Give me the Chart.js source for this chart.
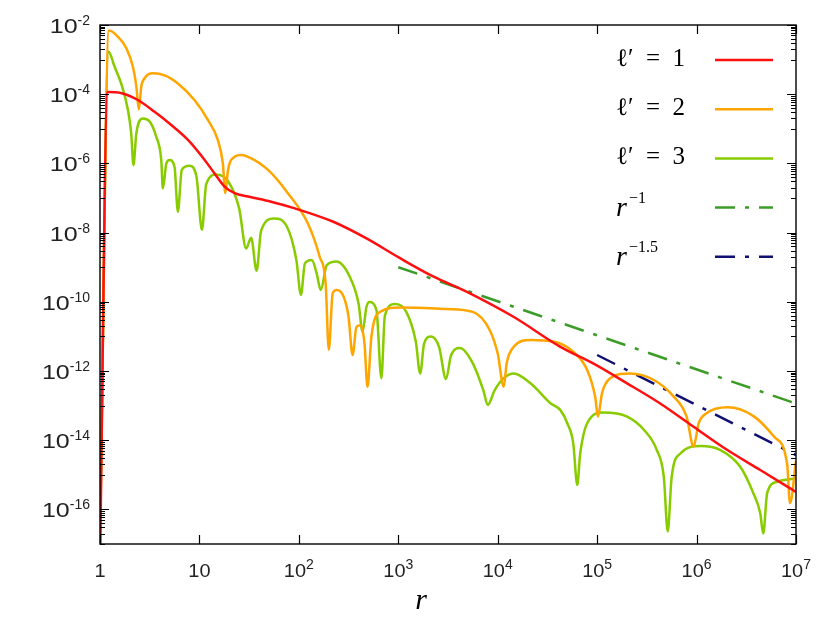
<!DOCTYPE html>
<html>
<head>
<meta charset="UTF-8">
<title>Radial profiles</title>
<script src="https://cdn.jsdelivr.net/npm/chart.js"></script>
<style>
  body { margin: 0; background: #fff; }
  canvas { display: block; }
</style>
</head>
<body>
<canvas id="chart" width="830" height="623"></canvas>
<script>
// l' = 1
const r1 = [1.0, 1.19, 1.65, 2.40, 3.54, 5.21, 7.67, 11.3, 14.2, 17.9, 22.6, 30.9, 52.5, 91.2, 219, 479,
  1040, 2240, 4900, 14400, 42700, 91200, 2.0e5, 4.27e5, 9.33e5, 2.04e6, 4.37e6, 1e7];
const f1 = [3e-18, 1.15e-4, 1.07e-4, 6.8e-5, 3.1e-5, 1.29e-5, 4.8e-6, 1.26e-6, 5.1e-7, 2.14e-7, 1.38e-7, 1.10e-7, 7.8e-8, 5.0e-8, 2.09e-8, 6.8e-9,
  1.82e-9, 5.4e-10, 1.95e-10, 3.7e-11, 5.0e-12, 1.66e-12, 4.4e-13, 1.17e-13, 2.45e-14, 5.2e-15, 1.38e-15, 3.2e-16];

// l' = 2
const r2 = [1.0, 1.23, 1.51, 1.84, 2.14, 2.32, 2.46, 2.60, 2.81, 3.40, 4.47, 6.07, 8.91, 12.2, 15.3, 17.2, 18.2, 19.4,
  22.6, 26.3, 30.9, 49.0, 77.6, 123, 162, 186, 200, 219, 240, 282, 316, 347, 380, 417, 457, 490, 537, 653,
  1050, 3090, 5620, 8320, 10000, 11500, 12300, 14500, 21400, 36300, 57500, 79400, 95500, 1.02e5, 1.12e5, 1.35e5,
  2.14e5, 3.72e5, 5.89e5, 7.94e5, 9.33e5, 1.05e6, 1.26e6, 2.04e6, 3.80e6, 6.03e6, 8.13e6, 8.71e6, 1e7];
const f2 = [1e-17, 6.9e-3, 4.6e-3, 2.14e-3, 6.3e-4, 1.66e-4, 3.6e-5, 1.66e-4, 2.9e-4, 4.0e-4, 3.5e-4, 2.04e-4, 6.8e-5, 1.78e-5, 4.8e-6, 1.0e-6, 1.38e-7, 6.5e-7,
  1.55e-6, 1.74e-6, 1.55e-6, 6.5e-7, 1.38e-7, 1.86e-8, 2.0e-9, 3.4e-10, 4.1e-12, 1.78e-10, 2.19e-10, 1.41e-10, 3.7e-11, 2.9e-12, 1.9e-11, 2.1e-11, 6.3e-12, 3.5e-13, 1.0e-11, 5.1e-11,
  6.9e-11, 6.2e-11, 5.1e-11, 1.51e-11, 3.2e-12, 3.5e-13, 1.66e-12, 5.0e-12, 7.9e-12, 7.1e-12, 3.6e-12, 1.07e-12, 1.82e-13, 4.8e-14, 2.3e-13, 6.2e-13,
  8.5e-13, 5.5e-13, 1.82e-13, 4.8e-14, 6.5e-15, 3.1e-14, 6.0e-14, 8.9e-14, 4.8e-14, 1.26e-14, 2.14e-15, 1.51e-16, 2.5e-15];

// l' = 3
const r3 = [1.0, 1.22, 1.40, 1.65, 1.91, 2.06, 2.17, 2.32, 2.69, 3.16, 3.68, 4.13, 4.29, 4.65, 5.01, 5.62, 6.07, 6.65,
  7.94, 9.33, 10.6, 11.7, 14.8, 19.5, 25.1, 29.5, 33.1, 37.6, 41.7, 56.2, 75.9, 94.4, 105, 115, 135, 151, 166, 191,
  240, 324, 398, 437, 479, 513, 603, 676, 733, 923, 1200, 1500, 1660, 1820, 2140, 2570, 3020, 3390, 4170, 5620,
  7160, 7940, 9330, 11500, 14500, 21400, 33900, 42700, 50100, 57500, 63100, 67600, 79400, 1.15e5, 2.0e5, 2.95e5,
  3.98e5, 4.68e5, 5.13e5, 5.62e5, 6.92e5, 1.10e6, 1.74e6, 2.75e6, 3.72e6, 4.37e6, 4.68e6, 5.13e6, 6.46e6, 1e7];
const f3 = [2e-17, 1.7e-3, 6.3e-4, 1.86e-4, 3.5e-5, 7.4e-6, 8.9e-7, 7.4e-6, 2.0e-5, 1.62e-5, 5.9e-6, 1.26e-6, 1.9e-7, 1.0e-6, 1.26e-6, 7.9e-7, 4.0e-8, 6.5e-7,
  8.5e-7, 4.2e-7, 1.2e-8, 2.5e-7, 4.8e-7, 3.0e-7, 5.0e-8, 3.5e-9, 7.1e-9, 7.9e-10, 1.12e-8, 2.57e-8, 1.48e-8, 1.62e-9, 1.58e-10, 1.29e-9, 1.62e-9, 6.6e-10, 2.19e-10, 1.15e-9,
  1.45e-9, 5.4e-10, 9.1e-11, 1.38e-11, 7.2e-11, 9.8e-11, 5.8e-11, 6.2e-13, 4.0e-11, 8.7e-11, 5.2e-11, 7.1e-12, 8.5e-13, 6.3e-12, 1.0e-11, 5.0e-12, 5.9e-13, 2.8e-12, 4.6e-12, 1.66e-12,
  2.8e-13, 1.05e-13, 2.8e-13, 6.2e-13, 8.5e-13, 4.4e-13, 1.17e-13, 7.4e-14, 3.1e-14, 8.1e-15, 5.1e-16, 4.2e-15, 3.1e-14, 6.3e-14, 4.8e-14, 2.0e-14,
  5.2e-15, 8.9e-16, 2.3e-17, 8.9e-16, 4.2e-15, 6.8e-15, 5.2e-15, 1.7e-15, 2.95e-16, 7.8e-17, 2.0e-17, 2.95e-16, 6.3e-16, 7.9e-16];

// reference slopes
const rSlope1 = [1e3, 1e7];
const fSlope1 = [1.0e-9, 1.15e-13];
const rSlope15 = [1e5, 1e7];
const fSlope15 = [2.9e-12, 3.7e-15];

// ticks
const xTicks = [1, 10, 1e2, 1e3, 1e4, 1e5, 1e6, 1e7];
const xTickBase = ['1', '10', '10', '10', '10', '10', '10', '10'];
const xTickExp = ['', '', '2', '3', '4', '5', '6', '7'];
const yTickExp = [-2, -4, -6, -8, -10, -12, -14, -16];

// legend
const legendText = ['ℓ′\u2002=\u20021', 'ℓ′\u2002=\u20022', 'ℓ′\u2002=\u20023', 'r', 'r'];
const legendExp = ['', '', '', '−1', '−1.5'];

const colors = ['#ff1010', '#ffa500', '#88cc00', '#3c9c28', '#101070'];
const dashes = [[], [], [], [20, 10, 4, 10], [20, 10, 4, 10]];

function pts(xs, ys) { return xs.map((x, i) => ({ x: x, y: ys[i] })); }

const series = [pts(r1, f1), pts(r2, f2), pts(r3, f3), pts(rSlope1, fSlope1), pts(rSlope15, fSlope15)];

const datasets = series.map((d, i) => ({
  label: legendText[i] + legendExp[i],
  data: d,
  borderColor: colors[i],
  borderWidth: 2.5,
  borderDash: dashes[i],
  pointRadius: 0,
  fill: false,
  cubicInterpolationMode: i < 3 ? 'monotone' : 'default',
  tension: 0
}));

function drawPow(ctx, base, exp, x, y, align, bigFont, smallFont, stretch, raise) {
  ctx.font = bigFont;
  const wb = ctx.measureText(base).width * stretch;
  ctx.font = smallFont;
  const we = exp ? ctx.measureText(exp).width : 0;
  const total = wb + we;
  let x0 = align === 'center' ? x - total / 2 : (align === 'right' ? x - total : x);
  ctx.textAlign = 'left';
  ctx.textBaseline = 'alphabetic';
  ctx.save();
  ctx.translate(x0, y);
  ctx.scale(stretch, 1);
  ctx.font = bigFont;
  ctx.fillText(base, 0, 0);
  ctx.restore();
  if (exp) {
    ctx.font = smallFont;
    ctx.fillText(exp, x0 + wb, y - raise);
  }
}

const framePlugin = {
  id: 'frame',
  afterDraw(chart) {
    const { ctx, chartArea: a, scales: { x, y } } = chart;
    ctx.save();
    ctx.strokeStyle = '#000';
    ctx.lineWidth = 1.4;
    ctx.setLineDash([]);
    ctx.strokeRect(a.left, a.top, a.right - a.left, a.bottom - a.top);

    ctx.lineWidth = 1.2;
    ctx.beginPath();
    xTicks.forEach(v => {
      const px = Math.round(x.getPixelForValue(v)) + 0.5;
      ctx.moveTo(px, a.bottom); ctx.lineTo(px, a.bottom - 9);
      ctx.moveTo(px, a.top); ctx.lineTo(px, a.top + 9);
    });
    yTickExp.forEach(e => {
      const py = Math.round(y.getPixelForValue(Math.pow(10, e))) + 0.5;
      ctx.moveTo(a.left, py); ctx.lineTo(a.left + 9, py);
      ctx.moveTo(a.right, py); ctx.lineTo(a.right - 9, py);
      for (let k = 1; k <= 9; k++) {
        const pm = Math.round(y.getPixelForValue(k * Math.pow(10, e - 1))) + 0.5;
        ctx.moveTo(a.left, pm); ctx.lineTo(a.left + 5, pm);
        ctx.moveTo(a.right, pm); ctx.lineTo(a.right - 5, pm);
      }
    });
    ctx.stroke();

    ctx.fillStyle = '#222';
    xTicks.forEach((v, i) => {
      const px = x.getPixelForValue(v);
      drawPow(ctx, xTickBase[i], xTickExp[i], px, a.bottom + 33, 'center',
        '19px "Liberation Sans", Arial, sans-serif', '14px "Liberation Sans", Arial, sans-serif', 1.05, 8);
    });
    yTickExp.forEach(e => {
      const py = y.getPixelForValue(Math.pow(10, e));
      drawPow(ctx, '10', '-' + (-e), 90, py + 8, 'right',
        '20px "Liberation Sans", Arial, sans-serif', '14px "Liberation Sans", Arial, sans-serif', 1.25, 8);
    });

    // axis title
    ctx.fillStyle = '#000';
    ctx.font = 'italic 30px "Liberation Serif", "DejaVu Serif", serif';
    ctx.textAlign = 'center';
    ctx.fillText('r', 421, 609);

    // legend
    legendText.forEach((t, i) => {
      const ly = 60 + i * 49.2;
      ctx.fillStyle = '#000';
      ctx.textAlign = 'left';
      if (legendExp[i]) {
        ctx.font = 'italic 28px "Liberation Serif", "DejaVu Serif", serif';
        ctx.fillText(t, 616, ly + 8);
        const w = ctx.measureText(t).width;
        ctx.font = '16px "Liberation Serif", "DejaVu Serif", serif';
        ctx.fillText(legendExp[i], 616 + w + 2, ly - 5);
      } else {
        ctx.font = '25px "Liberation Serif", "DejaVu Serif", serif';
        ctx.fillText(t, 616, ly + 6);
      }
      ctx.strokeStyle = colors[i];
      ctx.lineWidth = 2.5;
      ctx.setLineDash(dashes[i]);
      ctx.beginPath();
      ctx.moveTo(715, ly); ctx.lineTo(773, ly);
      ctx.stroke();
    });
    ctx.restore();
  }
};

new Chart(document.getElementById('chart'), {
  type: 'line',
  data: { datasets: datasets },
  options: {
    responsive: false,
    animation: false,
    layout: { padding: { left: 100, right: 34, top: 25, bottom: 79 } },
    plugins: { legend: { display: false }, tooltip: { enabled: false } },
    scales: {
      x: { type: 'logarithmic', min: 1, max: 1e7, display: false },
      y: { type: 'logarithmic', min: 1e-17, max: 1e-2, display: false }
    }
  },
  plugins: [framePlugin]
});
</script>
</body>
</html>
